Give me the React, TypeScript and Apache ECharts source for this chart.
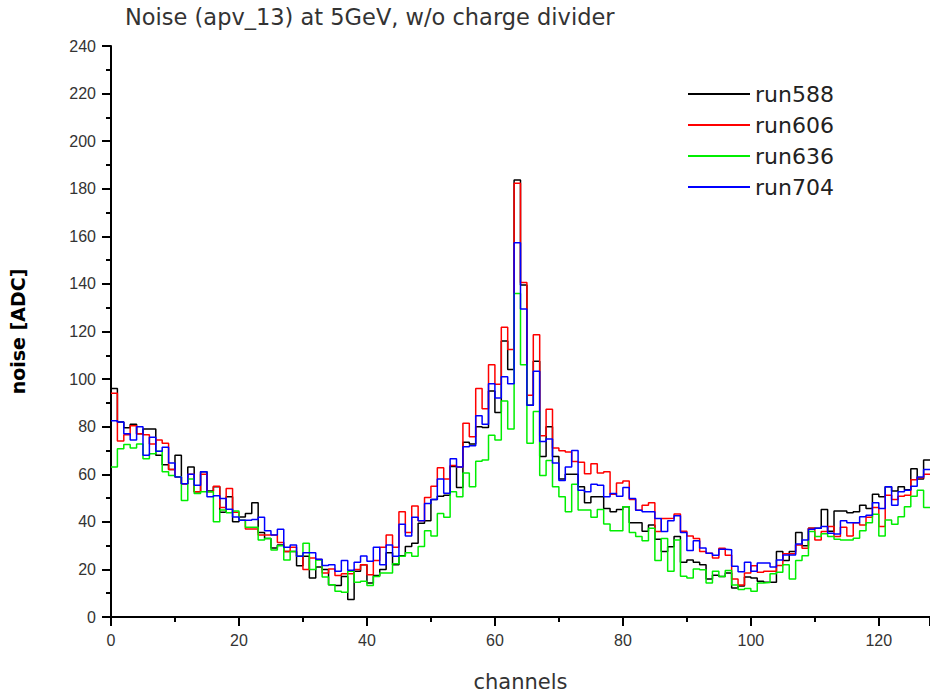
import React, { useEffect, useRef } from "react";
import * as echarts from "echarts";

const seriesNames = ["run588", "run606", "run636", "run704"];
const seriesColors = ["#000000", "#ff0000", "#00ee00", "#0000ff"];

const run588 = [
  96, 82, 79.5, 81, 77, 79, 79, 68, 64, 62,
  68, 56, 63, 52.6, 61, 53, 54.7, 44, 50.5, 40,
  42, 43.5, 48, 35.5, 33, 29, 30.3, 27.5, 27.5, 21.5,
  25.5, 16.4, 21, 20, 13.6, 13.2, 17, 7.4, 19.2, 22,
  14.3, 17.4, 20, 27, 22, 25.7, 29.6, 31, 39.4, 40.5,
  49.4, 50.8, 51.2, 63.3, 54.4, 73.4, 72.7, 80, 79.7, 95,
  86, 116, 104, 183.7, 139.5, 89, 107.5, 67.5, 80, 67.5,
  58, 60, 60, 54.7, 48, 50.5, 50.5, 45.6, 44.2, 45.2,
  46.3, 39.6, 39.6, 36, 38.7, 32.7, 27.5, 29.5, 33.8, 23,
  24, 23, 22, 16, 17.5, 17, 18.5, 12.2, 13, 16.8,
  16.4, 15, 14.6, 14.6, 27.5, 23.8, 27.5, 35.5, 30, 37.3,
  37.3, 45.2, 36, 44.6, 44.6, 43.8, 44.2, 47, 45.6, 51.6,
  50.5, 54.7, 53, 54.7, 53.5, 62.3, 58, 66,
];

const run606 = [
  94, 74, 76.6, 80.4, 77, 76.6, 72.7, 74.4, 73, 62,
  58.8, 56, 60, 52.6, 60, 52.6, 55, 46, 54, 44,
  40.7, 37, 37, 34.5, 34.5, 34.5, 31.3, 27.5, 29.3, 25.5,
  20, 24.8, 24.2, 18.5, 20.2, 17.4, 18.2, 18.2, 20, 22,
  17.8, 23.8, 29.3, 34.5, 29.3, 44.2, 35.5, 46.7, 40.5, 50.2,
  55, 62.7, 58, 63.7, 63, 81.4, 75.8, 96, 87.5, 106,
  97.8, 121.8, 112.4, 182.3, 140.6, 93.2, 118.6, 76.2, 87.3, 71,
  69.9, 69.3, 65.4, 65, 60.2, 64.4, 60.5, 61, 51.6, 56.3,
  57.2, 49.4, 44.9, 47, 48, 35.9, 41.4, 41.5, 43.3, 36,
  34, 33, 27.5, 26.8, 24.8, 28.9, 26, 16, 13.5, 18.5,
  21.5, 18.8, 19.2, 19.2, 21.6, 26.6, 26.6, 30.3, 28.9, 37.3,
  32.4, 35.9, 38, 33.8, 37.7, 34, 39.6, 38.7, 41.9, 46,
  38, 51.2, 49.4, 50.8, 51.2, 57.7, 58.5, 60,
];

const run636 = [
  63, 70.7, 72.5, 71, 72.7, 66.5, 68.6, 69.7, 61, 59.5,
  59, 49, 58, 51.9, 52.6, 52.6, 40, 45, 43.8, 44.6,
  40.7, 37.7, 37.7, 32.4, 33, 28.2, 30, 24, 27.5, 25.5,
  31, 20, 24, 16.8, 13.6, 10.8, 10.4, 19.2, 14.6, 15,
  13.2, 17, 18.5, 18.5, 22.4, 25.5, 27, 25.5, 29.6, 36.3,
  34, 43.5, 41.9, 52.6, 50.5, 60.5, 54.7, 65.5, 66, 76.4,
  74.4, 90.8, 79, 136, 106, 73, 86.4, 59.5, 65.8, 54.7,
  50.5, 44.2, 55.8, 45, 45, 41.9, 45.2, 39.1, 36.3, 36.3,
  46.3, 35.5, 33.8, 32.1, 37.3, 23.8, 33, 19.2, 32.4, 17.1,
  16.4, 20.2, 19.9, 14.3, 19.2, 17, 19.5, 13.5, 11.6, 12,
  10.8, 14.3, 14.5, 18.2, 18.8, 22, 16, 23.8, 25.7, 35.9,
  33.8, 35, 33.8, 32.7, 32.4, 32.4, 33.1, 36.3, 39.6, 43.2,
  34, 40.8, 39, 42.1, 46.3, 50.8, 53.3, 46,
];

const run704 = [
  82.5, 82, 77, 74.4, 80, 68, 75.5, 69.7, 71.3, 64.7,
  58.8, 56, 60, 55.4, 61, 50.5, 51, 49.8, 45.3, 42,
  40.7, 40.7, 41, 41.9, 36.3, 34.5, 36.9, 29.3, 30.3, 25.5,
  27, 27, 24.3, 21.6, 22, 19.2, 23.8, 19.6, 23, 25.6,
  23.4, 29.3, 22, 30.3, 25.5, 39, 34, 41.9, 40.5, 47.7,
  49.4, 58, 52, 66.5, 63, 71.6, 72, 84.6, 81, 98,
  92, 101, 98, 157.3, 129.5, 89, 103.3, 73.8, 74.8, 64.7,
  57.4, 63, 70, 53.3, 52.6, 55.8, 55.4, 50.5, 51.9, 50.8,
  54.4, 49.8, 44.9, 44.2, 44.2, 41.4, 35.9, 40.5, 42.6, 35.5,
  28, 32, 29, 26.8, 26, 28.5, 28.3, 21.3, 19, 23,
  19.2, 22.7, 22.7, 21, 24, 26.1, 26.1, 30.7, 32.4, 36.9,
  37.3, 38, 35.2, 34.9, 40.5, 39.6, 39.6, 42.1, 42.8, 48,
  45.6, 54.7, 47, 52.6, 53.3, 55, 58.8, 62,
];

const allValues = [run588, run606, run636, run704];

const titleText = "Noise (apv_13) at 5GeV, w/o charge divider";
const xName = "channels";
const yName = "noise [ADC]";

const tickFont = "'Liberation Sans Narrow', 'Liberation Sans', Arial, sans-serif";
const textFont = "'DejaVu Sans', sans-serif";

function toSteps(values: number[]) {
  const pts: number[][] = values.map((v, i) => [i, v]);
  pts.push([values.length, values[values.length - 1]]);
  return pts;
}

export default function App() {
  const ref = useRef<HTMLDivElement>(null);

  useEffect(() => {
    if (!ref.current) return;
    const chart = echarts.init(ref.current, undefined, { renderer: "svg" });

    const axisCommon = {
      axisLine: { show: true, lineStyle: { color: "#000", width: 2 } },
      axisTick: { show: true, length: 9, lineStyle: { color: "#000", width: 2 } },
      minorTick: { show: true, splitNumber: 2, length: 5, lineStyle: { color: "#000", width: 2 } },
      splitLine: { show: false },
      minorSplitLine: { show: false },
    };

    chart.setOption({
      animation: false,
      backgroundColor: "#ffffff",
      title: {
        text: titleText,
        left: 125,
        top: 5,
        padding: 0,
        textStyle: { fontFamily: textFont, fontSize: 22.5, fontWeight: "normal", color: "#333" },
      },
      legend: {
        orient: "vertical",
        left: 688,
        top: 83,
        padding: 0,
        itemWidth: 62,
        itemHeight: 2,
        itemGap: 9,
        itemTextGap: 7,
        icon: "rect",
        data: seriesNames,
        textStyle: { fontFamily: textFont, fontSize: 22, lineHeight: 22, color: "#222" },
      },
      grid: { left: 108, top: 46, width: 832, height: 575, containLabel: false },
      xAxis: {
        type: "value",
        min: 0,
        max: 128,
        interval: 20,
        name: xName,
        nameLocation: "middle",
        nameGap: 54,
        nameTextStyle: { fontFamily: textFont, fontSize: 21, color: "#333" },
        axisLabel: { margin: 15, fontFamily: tickFont, fontSize: 16, color: "#333", showMaxLabel: false },
        ...axisCommon,
      },
      yAxis: {
        type: "value",
        min: 0,
        max: 240,
        interval: 20,
        name: yName,
        nameLocation: "middle",
        nameGap: 84,
        nameTextStyle: { fontFamily: textFont, fontSize: 19, fontWeight: "bold", color: "#000" },
        axisLabel: { margin: 15, fontFamily: tickFont, fontSize: 16, color: "#333" },
        ...axisCommon,
      },
      series: allValues.map((vals, i) => ({
        name: seriesNames[i],
        type: "line",
        step: "end",
        data: toSteps(vals),
        symbol: "none",
        showSymbol: false,
        color: seriesColors[i],
        itemStyle: { color: seriesColors[i] },
        lineStyle: { color: seriesColors[i], width: 1.5 },
        z: 2 + i,
      })),
    });

    return () => chart.dispose();
  }, []);

  return (
    <div
      ref={ref}
      style={{ position: "absolute", left: 0, top: 0, width: 930, height: 697, overflow: "hidden" }}
    />
  );
}
